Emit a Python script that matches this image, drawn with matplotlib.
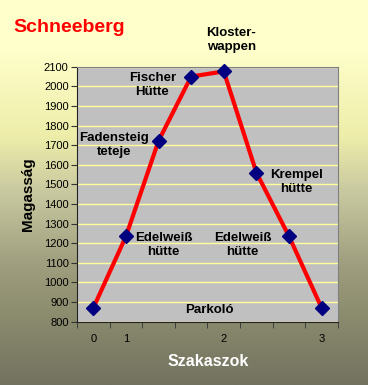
import numpy as np
import matplotlib
matplotlib.use("Agg")
import matplotlib.pyplot as plt
from matplotlib.colors import LinearSegmentedColormap

# adatok
kategoriak = ["0", "1", "", "", "2", "", "", "3"]
magassag = [870, 1235, 1722, 2050, 2076, 1560, 1235, 870]
nevek = ["Parkoló", "Edelweiß\nhütte", "Fadensteig\nteteje", "Fischer\nHütte",
         "Kloster-\nwappen", "Krempel\nhütte", "Edelweiß\nhütte", None]
# felirat helyek (x kategória index, y magasság)
felirat_hely = [(3.56, 860), (2.15, 1191), (0.64, 1701), (1.81, 2007),
                (4.23, 2236), (6.23, 1512), (4.57, 1191), None]

plt.rcParams['font.family'] = ['Liberation Sans', 'DejaVu Sans']

fig = plt.figure(figsize=(3.68, 3.85), dpi=100)

# háttér színátmenet
bg = fig.add_axes([0, 0, 1, 1])
cmap = LinearSegmentedColormap.from_list(
    "hatter",
    [(0.0, "#ffffcc"), (0.12, "#ffffcc"), (0.35, "#eeeeaa"),
     (0.5, "#c8c8a0"), (0.68, "#a0a080"), (0.8, "#8e8e70"), (1.0, "#727260")])
grad = np.linspace(0, 1, 256).reshape(-1, 1)
bg.imshow(grad, aspect="auto", cmap=cmap, extent=[0, 1, 0, 1], origin="upper")
bg.set_axis_off()

ax = fig.add_axes([0.2092, 0.1644, 0.7092, 0.6623])
ax.set_facecolor("#c0c0c0")
x = np.arange(len(magassag))
ax.plot(x, magassag, color="#ff0000", lw=3, zorder=3,
        marker="D", markersize=7.5, markerfacecolor="#000080",
        markeredgecolor="#000080", clip_on=False)

ax.set_xlim(-0.5, len(magassag) - 0.5)
ax.set_ylim(800, 2100)
ax.set_yticks(range(800, 2101, 100))
ax.yaxis.grid(True, color="#ffff99", lw=1)
ax.set_axisbelow(True)

ax.set_xticks(x)
ax.set_xticklabels(kategoriak)
ax.set_xticks(np.arange(-0.5, len(magassag), 1), minor=True)
ax.tick_params(axis="x", which="major", length=0, pad=9, labelsize=8)
ax.tick_params(axis="x", which="minor", length=4, direction="out", color="#333333")
ax.tick_params(axis="y", length=4, direction="out", labelsize=8, pad=2, color="#333333")

for s in ["top", "right"]:
    ax.spines[s].set_color("#808080")
for s in ["left", "bottom"]:
    ax.spines[s].set_color("#222222")

for nev, hely in zip(nevek, felirat_hely):
    if nev is None:
        continue
    ax.text(hely[0], hely[1], nev, ha="center", va="center", fontsize=9.5,
            fontweight="bold", color="black", linespacing=1.25, clip_on=False)

fig.text(13 / 368, 1 - 27 / 385, "Schneeberg", color="#ff0000", fontsize=14,
         fontweight="bold", ha="left", va="center")
fig.text(28 / 368, 1 - 194 / 385, "Magasság", rotation=90, fontsize=11,
         fontweight="bold", ha="center", va="center")
fig.text(208 / 368, 1 - 362 / 385, "Szakaszok", color="white", fontsize=11.5,
         fontweight="bold", ha="center", va="center")

fig.savefig("out.png", dpi=100)
